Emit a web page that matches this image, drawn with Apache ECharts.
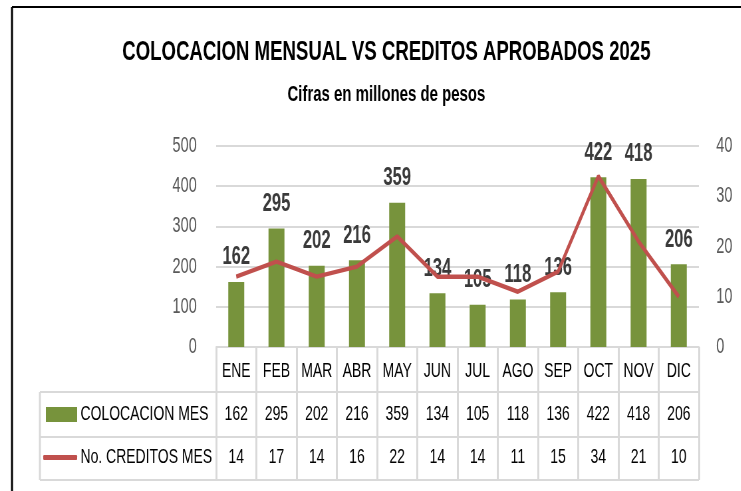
<!DOCTYPE html>
<html>
<head>
<meta charset="utf-8">
<script src="https://cdn.jsdelivr.net/npm/echarts@6/dist/echarts.min.js"></script>
<style>
  html, body { margin: 0; padding: 0; background: #fff; overflow: hidden; }
  body { width: 741px; height: 491px; }
  /* el original esta comprimido a lo ancho: se dibuja mas ancho y se estrecha */
  #main { width: 1114px; height: 491px; transform: scaleX(0.665); transform-origin: 0 0; }
</style>
</head>
<body>
<div id="main"></div>
<script>
var meses = ['ENE', 'FEB', 'MAR', 'ABR', 'MAY', 'JUN', 'JUL', 'AGO', 'SEP', 'OCT', 'NOV', 'DIC'];
var colocacion = [162, 295, 202, 216, 359, 134, 105, 118, 136, 422, 418, 206];
var creditos = [14, 17, 14, 16, 22, 14, 14, 11, 15, 34, 21, 10];
var ticksIzq = [0, 100, 200, 300, 400, 500];
var ticksDer = [0, 10, 20, 30, 40];

var fuente = "'Liberation Sans', Arial, sans-serif";
var lineaTabla = '#D9D9D9';

// medidas (en unidades del div ancho)
var ancho = 1114;
var gLeft = 325, gRight = 63, gTop = 146, gBottom = 144;
var ejeY = 491 - gBottom;      // 347
var fila1 = 392, fila2 = 437, fila3 = 480;
var tablaIzq = 60, tablaDer = ancho - gRight;
var centroTitulo = 576;

var myChart = echarts.init(document.getElementById('main'));

var option = {
    animation: false,
    textStyle: { fontFamily: fuente },
    title: [
        {
            text: 'COLOCACION MENSUAL VS CREDITOS APROBADOS 2025',
            left: centroTitulo,
            textAlign: 'center',
            top: 33,
            textStyle: { fontSize: 28, fontWeight: 'bold', color: '#000', fontFamily: fuente }
        },
        {
            text: 'Cifras en millones de pesos',
            left: centroTitulo,
            textAlign: 'center',
            top: 78,
            textStyle: { fontSize: 22.5, fontWeight: 'bold', color: '#000', fontFamily: fuente }
        }
    ],
    legend: [
        {
            data: ['COLOCACION MES'],
            left: 69,
            top: 404,
            padding: 0,
            icon: 'rect',
            itemWidth: 47,
            itemHeight: 15,
            selectedMode: false,
            textStyle: { fontSize: 21, color: '#000', fontFamily: fuente }
        },
        {
            data: ['No. CREDITOS MES'],
            left: 65,
            top: 447,
            padding: 0,
            icon: 'roundRect',
            itemWidth: 51,
            itemHeight: 5,
            selectedMode: false,
            textStyle: { fontSize: 21, color: '#000', fontFamily: fuente }
        }
    ],
    grid: { left: gLeft, right: gRight, top: gTop, bottom: gBottom },
    xAxis: [
        {
            type: 'category',
            data: meses,
            position: 'bottom',
            axisLine: { lineStyle: { color: lineaTabla, width: 2 } },
            axisTick: { show: true, length: fila3 - ejeY, interval: 0, lineStyle: { color: lineaTabla, width: 3 } },
            axisLabel: { interval: 0, margin: 14, fontSize: 21, color: '#000', fontFamily: fuente }
        },
        {
            type: 'category',
            data: meses,
            position: 'bottom',
            offset: fila1 - ejeY,
            axisLine: { show: false },
            axisTick: { show: false },
            axisLabel: {
                interval: 0, margin: 12, fontSize: 21, color: '#000', fontFamily: fuente,
                formatter: function (v, i) { return colocacion[i]; }
            }
        },
        {
            type: 'category',
            data: meses,
            position: 'bottom',
            offset: fila2 - ejeY,
            axisLine: { show: false },
            axisTick: { show: false },
            axisLabel: {
                interval: 0, margin: 10, fontSize: 21, color: '#000', fontFamily: fuente,
                formatter: function (v, i) { return creditos[i]; }
            }
        }
    ],
    yAxis: [
        {
            type: 'value',
            min: ticksIzq[0],
            max: ticksIzq[ticksIzq.length - 1],
            interval: 100,
            axisLine: { show: false },
            axisTick: { show: false },
            splitLine: { lineStyle: { color: lineaTabla, width: 2 } },
            axisLabel: { margin: 29, fontSize: 22, color: '#595959', fontFamily: fuente }
        },
        {
            type: 'value',
            min: ticksDer[0],
            max: ticksDer[ticksDer.length - 1],
            interval: 10,
            position: 'right',
            axisLine: { show: false },
            axisTick: { show: false },
            splitLine: { show: false },
            axisLabel: { margin: 26, fontSize: 22, color: '#595959', fontFamily: fuente }
        }
    ],
    graphic: [
        // marco negro parcial
        { type: 'line', shape: { x1: 18, y1: 7, x2: 1200, y2: 7 }, style: { stroke: '#000', lineWidth: 2 } },
        { type: 'line', shape: { x1: 18, y1: 7, x2: 18, y2: 500 }, style: { stroke: '#000', lineWidth: 3 } },
        // bordes de la tabla de datos
        { type: 'line', shape: { x1: tablaIzq, y1: fila1, x2: tablaDer, y2: fila1 }, style: { stroke: lineaTabla, lineWidth: 2 } },
        { type: 'line', shape: { x1: tablaIzq, y1: fila2, x2: tablaDer, y2: fila2 }, style: { stroke: lineaTabla, lineWidth: 2 } },
        { type: 'line', shape: { x1: tablaIzq, y1: fila3, x2: tablaDer, y2: fila3 }, style: { stroke: lineaTabla, lineWidth: 2 } },
        { type: 'line', shape: { x1: tablaIzq, y1: fila1, x2: tablaIzq, y2: fila3 }, style: { stroke: lineaTabla, lineWidth: 3 } }
    ],
    series: [
        {
            name: 'COLOCACION MES',
            type: 'bar',
            xAxisIndex: 0,
            yAxisIndex: 0,
            barWidth: 24,
            itemStyle: { color: '#77933C' },
            label: {
                show: true,
                position: 'top',
                distance: 12,
                fontSize: 25,
                fontWeight: 'bold',
                color: '#3a3a3a',
                fontFamily: fuente
            },
            data: colocacion
        },
        {
            name: 'No. CREDITOS MES',
            type: 'line',
            xAxisIndex: 0,
            yAxisIndex: 1,
            symbol: 'none',
            itemStyle: { color: '#C0504D' },
            lineStyle: { color: '#C0504D', width: 4.5 },
            data: creditos
        }
    ]
};
myChart.setOption(option);
</script>
</body>
</html>
